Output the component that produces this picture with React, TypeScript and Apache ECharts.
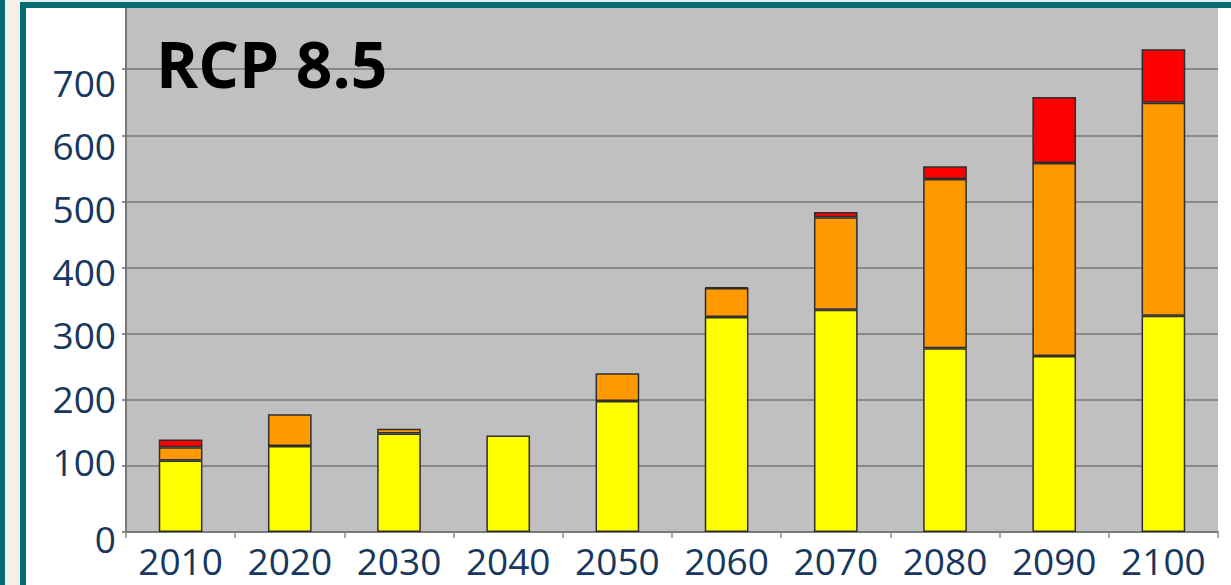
import React, { useEffect, useRef } from "react";
import * as echarts from "echarts";

const years = ["2010", "2020", "2030", "2040", "2050", "2060", "2070", "2080", "2090", "2100"];
const yellowValues = [108, 130, 149, 146, 198, 325, 336, 278, 266, 327];
const orangeValues = [20, 48, 7, null, 42, 44, 140, 256, 292, 322];
const redValues = [12, null, null, null, null, 1, 8, 19, 100, 81];
const yTicks = [0, 100, 200, 300, 400, 500, 600, 700];
const title = "RCP 8.5";

// vertical nudge (px) of each y tick label, as seen in the reference
const labelShift: Record<number, number> = { 0: 6, 100: -4, 200: -1, 300: 1, 400: 4, 500: 7, 600: 10, 700: 13 };

export default function App() {
  const ref = useRef<HTMLDivElement>(null);
  useEffect(() => {
    if (!ref.current) return;
    const chart = echarts.init(ref.current, undefined, { renderer: "svg" });
    const teal = "#056b72";
    const labelColor = "#17375e";
    const barBorder = { borderColor: "#2e2e2e", borderWidth: 1.5 };
    const rich: Record<string, any> = {};
    yTicks.forEach((v) => {
      const d = labelShift[v] || 0;
      rich["t" + v] = {
        color: labelColor,
        fontFamily: "Open Sans",
        fontSize: 37,
        padding: d >= 0 ? [2 * d, 0, 0, 0] : [0, 0, -2 * d, 0],
      };
    });
    chart.setOption({
      animation: false,
      backgroundColor: "#ffffff",
      grid: {
        left: 126,
        right: 13,
        top: 3,
        bottom: 53,
        show: true,
        backgroundColor: "#c0c0c0",
        borderWidth: 0,
      },
      xAxis: {
        type: "category",
        data: years,
        axisLine: { show: true, lineStyle: { color: "#7a7a7a", width: 2 } },
        axisTick: { show: true, interval: 0, length: 6, lineStyle: { color: "#8a8a8a", width: 1.5 } },
        axisLabel: {
          interval: 0,
          color: labelColor,
          fontFamily: "Open Sans",
          fontSize: 37,
          margin: 10,
        },
      },
      yAxis: {
        type: "value",
        min: 0,
        max: 800,
        interval: 100,
        axisLine: { show: true, lineStyle: { color: "#7a7a7a", width: 2 } },
        axisTick: { show: true, length: 4, lineStyle: { color: "#6e6e6e", width: 1.5 } },
        splitLine: { show: true, lineStyle: { color: "#777777", width: 1.5 } },
        axisLabel: {
          color: labelColor,
          fontFamily: "Open Sans",
          fontSize: 37,
          margin: 10,
          rich,
          formatter: (v: number) => (yTicks.includes(v) ? "{t" + v + "|" + v + "}" : ""),
        },
      },
      series: [
        {
          type: "bar",
          stack: "total",
          barWidth: "40%",
          data: yellowValues,
          itemStyle: { color: "#ffff00", ...barBorder },
        },
        {
          type: "bar",
          stack: "total",
          barWidth: "40%",
          data: orangeValues,
          itemStyle: { color: "#ff9900", ...barBorder },
        },
        {
          type: "bar",
          stack: "total",
          barWidth: "40%",
          data: redValues,
          itemStyle: { color: "#ff0000", ...barBorder },
        },
      ],
      graphic: [
        { type: "rect", z: 100, shape: { x: 0, y: 0, width: 5, height: 585 }, style: { fill: teal } },
        { type: "rect", z: 100, shape: { x: 5, y: 0, width: 15, height: 585 }, style: { fill: "#f2f0e8" } },
        { type: "rect", z: 100, shape: { x: 20, y: 0, width: 1211, height: 2 }, style: { fill: "#e9efee" } },
        { type: "rect", z: 100, shape: { x: 20, y: 2, width: 6, height: 583 }, style: { fill: teal } },
        { type: "rect", z: 100, shape: { x: 20, y: 2, width: 1211, height: 6 }, style: { fill: teal } },
        {
          type: "text",
          z: 100,
          left: 156,
          top: 31,
          style: {
            text: title,
            fontFamily: "Open Sans",
            fontWeight: "bold",
            fontSize: 64,
            fill: "#000000",
          },
        },
      ],
    });
    return () => chart.dispose();
  }, []);
  return (
    <div
      ref={ref}
      style={{ position: "fixed", left: 0, top: 0, width: 1231, height: 585 }}
    />
  );
}
